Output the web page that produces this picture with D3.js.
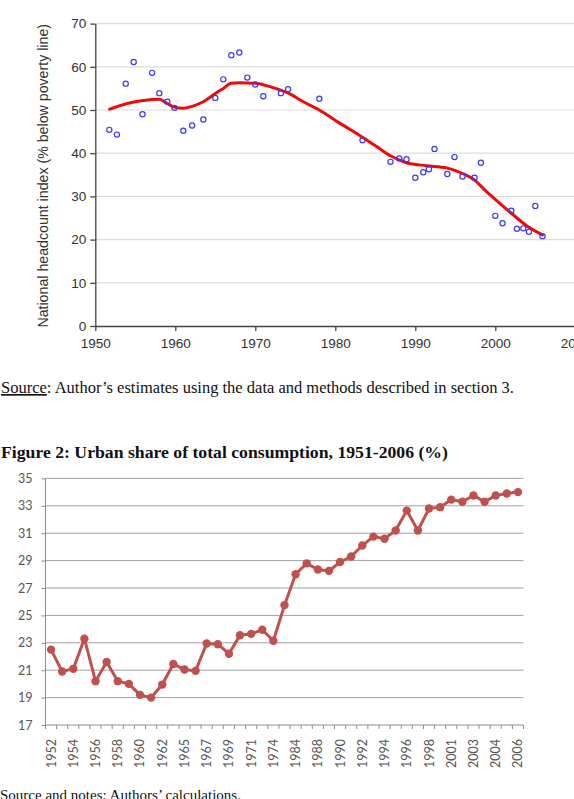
<!DOCTYPE html>
<html>
<head>
<meta charset="utf-8">
<script src="https://cdn.jsdelivr.net/npm/d3@7"></script>
<style>
body { margin: 0; background: #fff; }
svg { display: block; }
</style>
</head>
<body>
<svg id="page" width="574" height="799"></svg>
<script>
// ---- figure 1: headcount index, scatter + smoothed trend
var scatterYears = [1951.75, 1952.7, 1953.8, 1954.8, 1955.9, 1957.1, 1958, 1959, 1959.9, 1961, 1962.1, 1963.5,
    1965, 1966, 1967, 1968, 1969, 1970, 1971, 1973.2, 1974.1, 1978, 1983.4, 1986.9, 1988, 1988.9,
    1990, 1991, 1991.7, 1992.4, 1994, 1994.9, 1995.9, 1997.4, 1998.2, 2000, 2000.9, 2002, 2002.7,
    2003.5, 2004.2, 2005, 2005.9];
var scatterValues = [45.4, 44.3, 56.1, 61.1, 49.0, 58.6, 53.9, 51.9, 50.5, 45.2, 46.4, 47.8,
    52.8, 57.1, 62.7, 63.3, 57.5, 55.9, 53.2, 53.9, 54.8, 52.6, 43.0, 38.0, 38.8, 38.6,
    34.3, 35.6, 36.3, 41.0, 35.2, 39.1, 34.6, 34.3, 37.8, 25.5, 23.8, 26.7, 22.5,
    22.6, 21.8, 27.8, 20.8];
var trendYears = [1951.8, 1954, 1956, 1958, 1959, 1960, 1961, 1962.2, 1963.5, 1965, 1966, 1967, 1968, 1970,
    1972, 1974, 1976, 1978, 1980.6, 1983.4, 1985.2, 1986.9, 1988.9, 1991.4, 1993.9, 1995.9, 1997.4,
    1998.9, 2000, 2002, 2004, 2005.9];
var trendValues = [50.2, 51.5, 52.2, 52.5, 51.5, 50.6, 50.4, 50.9, 51.9, 53.8, 55.0, 56.2, 56.3, 56.2,
    55.3, 54.0, 51.9, 50.0, 46.9, 43.7, 41.5, 39.4, 37.8, 37.1, 36.6, 35.3, 33.8,
    31.1, 29.3, 26.1, 23.1, 21.1];
var fig1YTicks = [0, 10, 20, 30, 40, 50, 60, 70];
var fig1XTicks = [1950, 1960, 1970, 1980, 1990, 2000, 2010];

// ---- figure 2: urban share of consumption
var urbanYears = ["1952", "1953", "1954", "1955", "1956", "1957", "1958", "1959", "1960", "1961", "1962", "1964",
    "1965", "1966", "1967", "1968", "1969", "1970", "1971", "1973", "1974", "1978", "1984", "1987",
    "1988", "1989", "1990", "1991", "1992", "1993", "1994", "1995", "1996", "1997", "1998", "2000",
    "2001", "2002", "2003", "2003-04", "2004", "2005", "2006"];
var urbanShare = [22.5, 20.9, 21.1, 23.3, 20.2, 21.6, 20.2, 20.0, 19.2, 19.0, 19.95, 21.45,
    21.05, 20.95, 22.95, 22.9, 22.2, 23.55, 23.65, 23.95, 23.15, 25.75, 28.0, 28.8,
    28.35, 28.25, 28.9, 29.3, 30.1, 30.75, 30.6, 31.2, 32.65, 31.2, 32.8, 32.9,
    33.45, 33.3, 33.75, 33.3, 33.75, 33.9, 34.0];
var fig2YTicks = [17, 19, 21, 23, 25, 27, 29, 31, 33, 35];

var svg = d3.select("svg#page");

// ============ figure 1 ============
var x1 = d3.scaleLinear().domain([1950, 2010]).range([95.3, 575.3]);
var y1 = d3.scaleLinear().domain([0, 70]).range([326, 23.6]);

var g1 = svg.append("g").attr("class", "fig1");

g1.selectAll("line.grid").data(fig1YTicks.slice(1)).enter().append("line")
    .attr("class", "grid")
    .attr("x1", x1(1950)).attr("x2", 574)
    .attr("y1", function(d) { return y1(d); })
    .attr("y2", function(d) { return y1(d); })
    .attr("stroke", "#dcdcdc").attr("stroke-width", 1.2);

var yAxis1 = g1.append("g")
    .attr("transform", "translate(" + x1(1950) + ",0)")
    .call(d3.axisLeft(y1).tickValues(fig1YTicks).tickSize(5).tickPadding(4).tickSizeOuter(0));
var xAxis1 = g1.append("g")
    .attr("transform", "translate(0," + y1(0) + ")")
    .call(d3.axisBottom(x1).tickValues(fig1XTicks).tickFormat(d3.format("d")).tickSize(5).tickPadding(7).tickSizeOuter(0));

[yAxis1, xAxis1].forEach(function(a) {
    a.selectAll("path, line").attr("stroke", "#444").attr("stroke-width", 1.3);
    a.selectAll("text").attr("fill", "#333")
        .style("font-family", "'Liberation Sans', Arial, sans-serif").style("font-size", "13.6px");
});

g1.append("text")
    .attr("transform", "translate(47.5," + (y1(35) + 1) + ") rotate(-90)")
    .attr("text-anchor", "middle")
    .style("font-family", "'Liberation Sans', Arial, sans-serif").style("font-size", "14.2px")
    .attr("fill", "#333")
    .text("National headcount index (% below poverty line)");

var trend = trendYears.map(function(yr, i) { return [yr, trendValues[i]]; });
g1.append("path")
    .datum(trend)
    .attr("fill", "none")
    .attr("stroke", "#ee0a0a")
    .attr("stroke-width", 3)
    .attr("stroke-linecap", "round")
    .attr("d", d3.line()
        .x(function(d) { return x1(d[0]); })
        .y(function(d) { return y1(d[1]); })
        .curve(d3.curveMonotoneX));

g1.selectAll("circle.pt").data(scatterYears).enter().append("circle")
    .attr("class", "pt")
    .attr("cx", function(d) { return x1(d); })
    .attr("cy", function(d, i) { return y1(scatterValues[i]); })
    .attr("r", 2.6)
    .attr("fill", "none")
    .attr("stroke", "#3a3af0")
    .attr("stroke-width", 1.2);

// source line under figure 1
var src = svg.append("text")
    .attr("x", 1).attr("y", 393)
    .style("font-family", "'Liberation Serif', 'Times New Roman', serif").style("font-size", "16.5px")
    .attr("fill", "#111");
src.append("tspan").attr("text-decoration", "underline").text("Source");
src.append("tspan").text(": Author\u2019s estimates using the data and methods described in section 3.");

// ============ figure 2 ============
svg.append("text")
    .attr("x", 1).attr("y", 458)
    .style("font-family", "'Liberation Serif', 'Times New Roman', serif").style("font-size", "17.7px")
    .style("font-weight", "bold")
    .attr("fill", "#111")
    .text("Figure 2: Urban share of total consumption, 1951-2006 (%)");

var x2 = d3.scaleBand().domain(d3.range(urbanYears.length)).range([45.5, 523.5]);
var y2 = d3.scaleLinear().domain([17, 35]).range([725, 478.4]);
var g2 = svg.append("g").attr("class", "fig2");

g2.selectAll("line.grid").data(fig2YTicks.slice(1)).enter().append("line")
    .attr("class", "grid")
    .attr("x1", 45.5).attr("x2", 523.5)
    .attr("y1", function(d) { return y2(d); })
    .attr("y2", function(d) { return y2(d); })
    .attr("stroke", "#a0a0a0").attr("stroke-width", 1);

var yAxis2 = g2.append("g")
    .attr("transform", "translate(45.5,0)")
    .call(d3.axisLeft(y2).tickValues(fig2YTicks).tickSize(4).tickPadding(9).tickSizeOuter(0));
yAxis2.select("path.domain").attr("d", "M0," + y2(35) + "V" + y2(17));

// category axis: ticks on band edges, labels every other year
var xAxis2 = g2.append("g").attr("transform", "translate(0," + y2(17) + ")");
xAxis2.append("line").attr("x1", 45.5).attr("x2", 523.5).attr("stroke", "#8c8c8c");
xAxis2.selectAll("line.tk").data(d3.range(urbanYears.length + 1)).enter().append("line")
    .attr("class", "tk")
    .attr("x1", function(i) { return 45.5 + i * x2.step(); })
    .attr("x2", function(i) { return 45.5 + i * x2.step(); })
    .attr("y1", 0).attr("y2", 4)
    .attr("stroke", "#8c8c8c");
xAxis2.selectAll("text").data(d3.range(0, urbanYears.length, 2)).enter().append("text")
    .attr("transform", function(i) {
        return "translate(" + (x2(i) + x2.bandwidth() / 2 + 4.5) + ",14) rotate(-90)";
    })
    .attr("text-anchor", "end")
    .text(function(i) { return urbanYears[i]; });

yAxis2.selectAll("path, line").attr("stroke", "#8c8c8c");
[yAxis2, xAxis2].forEach(function(a) {
    a.selectAll("text").attr("fill", "#555")
        .style("font-family", "Lato, 'Open Sans', sans-serif").style("font-size", "12.5px");
});

var urbanLine = d3.line()
    .x(function(d, i) { return x2(i) + x2.bandwidth() / 2; })
    .y(function(d) { return y2(d); });
g2.append("path")
    .datum(urbanShare)
    .attr("fill", "none")
    .attr("stroke", "#c0504d")
    .attr("stroke-width", 3)
    .attr("d", urbanLine);
g2.selectAll("circle.mk").data(urbanShare).enter().append("circle")
    .attr("class", "mk")
    .attr("cx", function(d, i) { return x2(i) + x2.bandwidth() / 2; })
    .attr("cy", function(d) { return y2(d); })
    .attr("r", 4.2)
    .attr("fill", "#c0504d");

svg.append("text")
    .attr("x", 0).attr("y", 800)
    .style("font-family", "'Liberation Serif', 'Times New Roman', serif").style("font-size", "15px")
    .attr("fill", "#111")
    .text("Source and notes: Authors\u2019 calculations.");
</script>
</body>
</html>
